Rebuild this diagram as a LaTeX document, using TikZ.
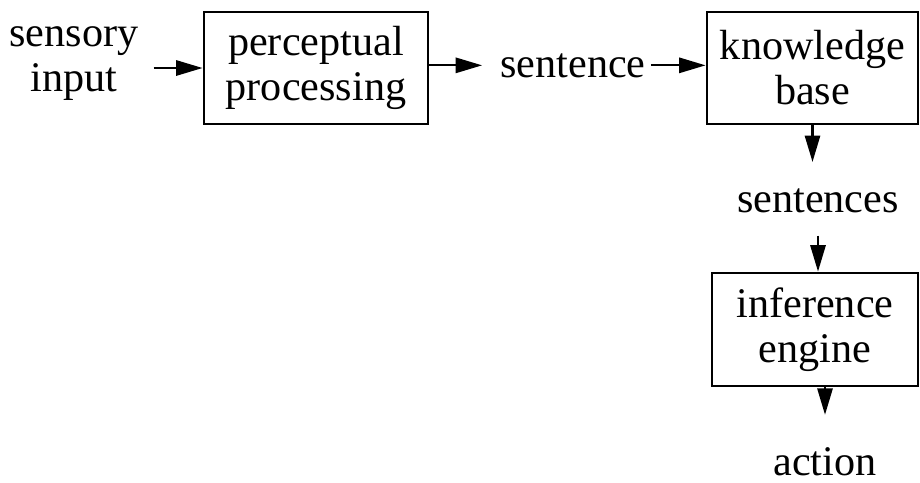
\documentclass[tikz,border=0pt]{standalone}
\usepackage{fontspec}
\setmainfont{Liberation Serif}
\usepackage{tikz}
\usetikzlibrary{positioning,arrows.meta,calc}
\tikzset{
  block/.style={draw=black, line width=2pt, align=center, inner sep=0pt,
    font=\fontsize{30}{32}\selectfont},
  term/.style={align=center, inner sep=0pt, font=\fontsize{30}{32}\selectfont},
  flow/.style={line width=1.6pt, draw=black,
    -{Triangle[length=0.66cm,width=0.38cm]}}
}

\begin{document}
\begin{tikzpicture}[x=0.025cm,y=-0.025cm]
  \useasboundingbox (0,0) rectangle (920,482);
  % top row
  \node[term] (sens) at (74,64) {sensory\\input};
  \node[block, minimum width=5.6cm, minimum height=2.8cm] (pp) at (316,68) {perceptual\\processing};
  \node[term, anchor=base] (snt) at (573,77) {sentence};
  \node[block, minimum width=5.275cm, minimum height=2.8cm] (kb) at (812.5,68) {knowledge\\base};
  % right column
  \node[term, anchor=base] (snts) at (818,212) {sentences};
  \node[block, minimum width=5.15cm, minimum height=2.825cm] (ie) at (815,329.5) {inference\\engine};
  \node[term, anchor=base] (act) at (825,475) {action};

  \draw[flow, shorten <=0.375cm] (sens.east |- pp.west) -- (pp.west);
  \draw[flow, shorten >=0.45cm] (pp.east |- snt.west) -- (snt.west);
  \draw[flow, shorten <=0.125cm] (snt.east) -- (kb.west |- snt.east);
  \draw[flow, shorten >=0.65cm] (kb.south) -- (kb.south |- snts.north);
  \draw[flow, shorten <=0.575cm] (snts.south) -- (snts.south |- ie.north);
  \draw[flow, shorten >=0.8cm] (ie.south -| act) -- (act.north);
\end{tikzpicture}
\end{document}
